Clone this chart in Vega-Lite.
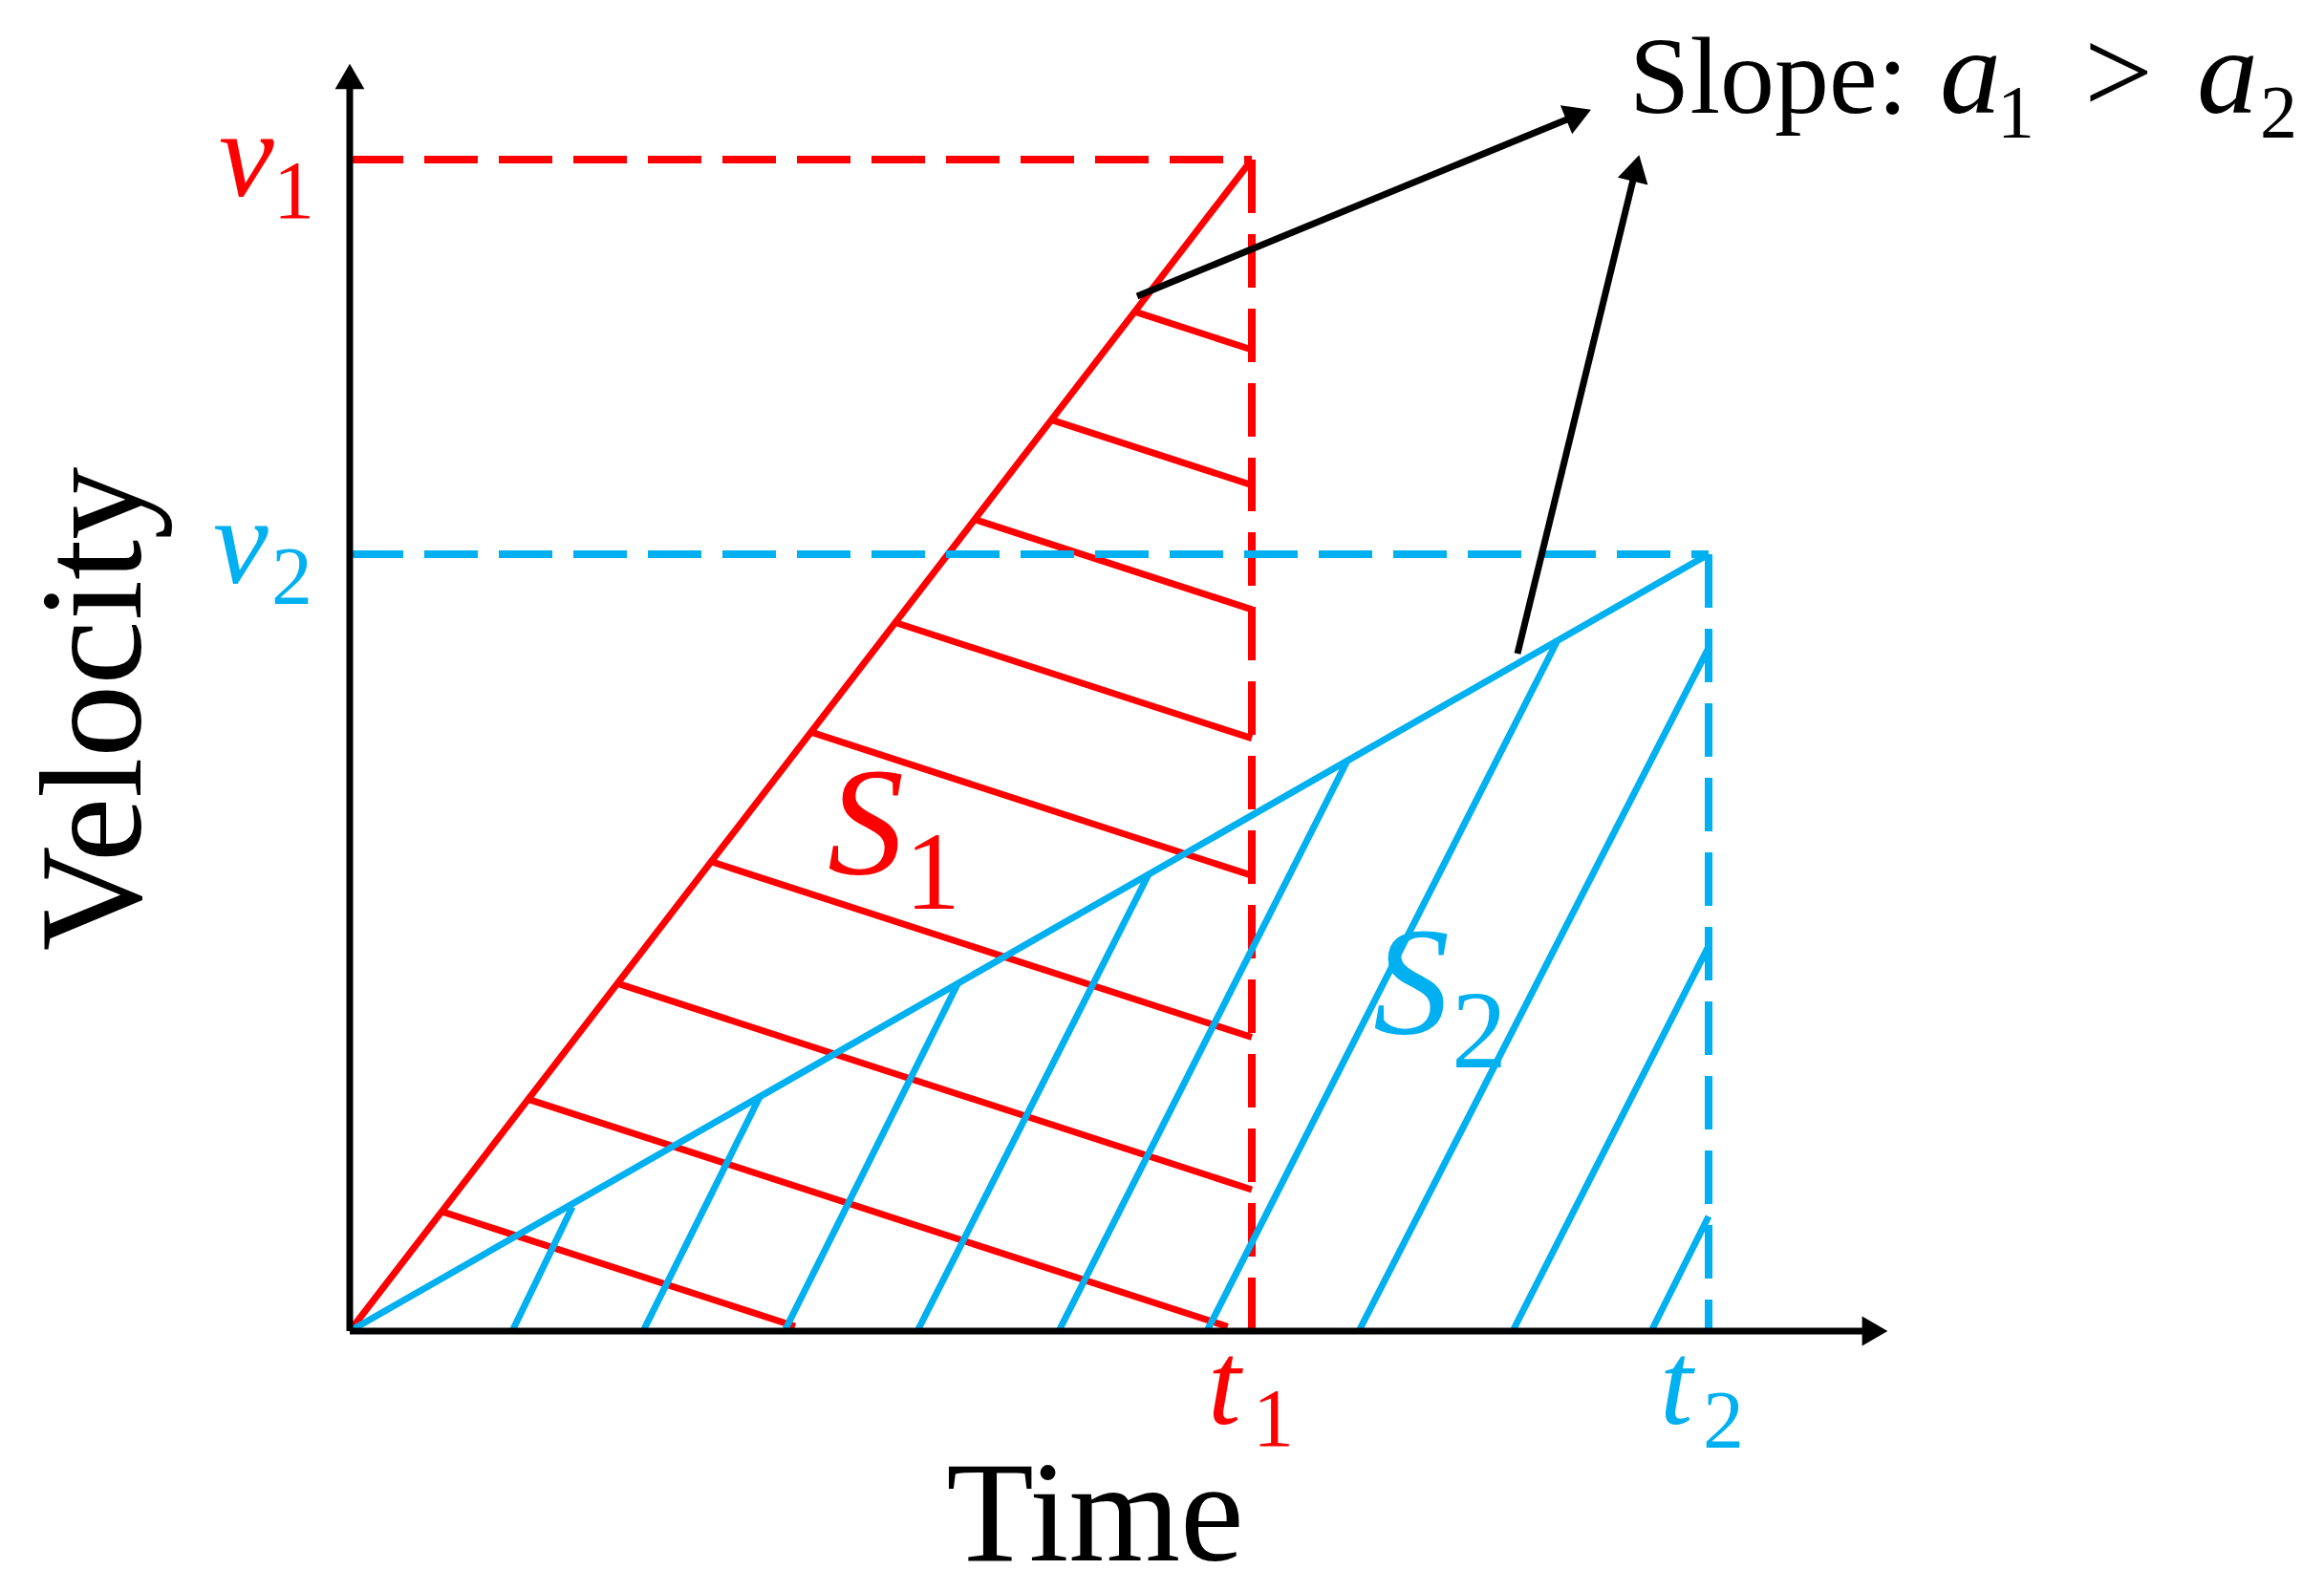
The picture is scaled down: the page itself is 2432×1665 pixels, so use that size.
{
  "$schema": "https://vega.github.io/schema/vega-lite/v6.json",
  "width": 2432,
  "height": 1665,
  "padding": 0,
  "autosize": {"type": "none"},
  "background": "white",
  "config": {"view": {"stroke": null}},
  "datasets": {
    "redSlope": [{"x": 0, "y": 0, "x2": 944, "y2": 1226}],
    "redDash": [
      {"x": 0, "y": 1226, "x2": 944, "y2": 1226},
      {"x": 944, "y": 1226, "x2": 944, "y2": 0}
    ],
    "redHatch": [
      {"x": 821.5, "y": 1066.8, "x2": 944, "y2": 1027},
      {"x": 734.3, "y": 953.6, "x2": 944, "y2": 885.4},
      {"x": 654.1, "y": 849.4, "x2": 944, "y2": 755.2},
      {"x": 571, "y": 741.5, "x2": 944, "y2": 620.3},
      {"x": 482.6, "y": 626.8, "x2": 944, "y2": 476.8},
      {"x": 378.3, "y": 491.3, "x2": 944, "y2": 307.5},
      {"x": 280.1, "y": 363.8, "x2": 944, "y2": 148},
      {"x": 186.8, "y": 242.6, "x2": 918.7, "y2": 4.7},
      {"x": 96.4, "y": 125.1, "x2": 466, "y2": 5}
    ],
    "blueSlope": [{"x": 0, "y": 0, "x2": 1422, "y2": 813}],
    "blueDash": [
      {"x": 0, "y": 813, "x2": 1422, "y2": 813},
      {"x": 1422, "y": 813, "x2": 1422, "y2": 0}
    ],
    "blueHatch": [
      {"x": 171, "y": 2, "x2": 233, "y2": 130},
      {"x": 308, "y": 2, "x2": 429, "y2": 245},
      {"x": 456, "y": 2, "x2": 637, "y2": 365},
      {"x": 595, "y": 2, "x2": 836, "y2": 478},
      {"x": 743, "y": 2, "x2": 1044, "y2": 597},
      {"x": 898, "y": 2, "x2": 1263, "y2": 721},
      {"x": 1057, "y": 2, "x2": 1422, "y2": 715},
      {"x": 1218, "y": 2, "x2": 1422, "y2": 403},
      {"x": 1363, "y": 2, "x2": 1422, "y2": 120}
    ],
    "axes": [
      {"x": 0, "y": 0, "x2": 1590, "y2": 0},
      {"x": 0, "y": 0, "x2": 0, "y2": 1300}
    ],
    "axisHeadUp": [{"x": 0, "y": 1313}],
    "axisHeadRight": [{"x": 1596, "y": 0}],
    "arrows": [
      {"x": 824, "y": 1083, "x2": 1286, "y2": 1273},
      {"x": 1222, "y": 709, "x2": 1346, "y2": 1217}
    ],
    "arrowHead1": [{"x": 1286, "y": 1273}],
    "arrowHead2": [{"x": 1346, "y": 1217}],
    "vLabels": [
      {"label": "v", "series": "1", "x": -137, "y": 1188},
      {"label": "v", "series": "2", "x": -143, "y": 783}
    ],
    "tLabels": [
      {"label": "t", "series": "1", "x": 898, "y": -97},
      {"label": "t", "series": "2", "x": 1371, "y": -97}
    ],
    "SLabels": [
      {"label": "S", "series": "1", "x": 500, "y": 479},
      {"label": "S", "series": "2", "x": 1071, "y": 312}
    ],
    "aLabels": [
      {"label": "a", "series": "0", "x": 1664, "y": 1275},
      {"label": "a", "series": "0", "x": 1933, "y": 1275}
    ],
    "subVT": [
      {"label": "1", "series": "1", "x": -80, "y": 1165},
      {"label": "2", "series": "2", "x": -82, "y": 761},
      {"label": "1", "series": "1", "x": 945, "y": -120},
      {"label": "2", "series": "2", "x": 1416, "y": -122}
    ],
    "subS": [
      {"label": "1", "series": "1", "x": 581, "y": 442},
      {"label": "2", "series": "2", "x": 1153, "y": 276}
    ],
    "subA": [
      {"label": "1", "series": "0", "x": 1724, "y": 1250},
      {"label": "2", "series": "0", "x": 1999, "y": 1250}
    ],
    "slopeText": [{"label": "Slope:", "x": 1339, "y": 1275}],
    "gtText": [{"label": ">", "x": 1815, "y": 1275}],
    "timeText": [{"label": "Time", "x": 780, "y": -240}],
    "velText": [{"label": "Velocity", "x": -219, "y": 651}]
  },
  "encoding": {
    "x": {"field": "x", "type": "quantitative", "scale": {"domain": [-366, 2066], "nice": false, "zero": false}, "axis": null},
    "y": {"field": "y", "type": "quantitative", "scale": {"domain": [-272, 1393], "nice": false, "zero": false}, "axis": null}
  },
  "layer": [
    {"data": {"name": "redHatch"}, "mark": {"type": "rule", "color": "#FF0000", "strokeWidth": 7}, "encoding": {"x2": {"field": "x2"}, "y2": {"field": "y2"}}},
    {"data": {"name": "redSlope"}, "mark": {"type": "rule", "color": "#FF0000", "strokeWidth": 7}, "encoding": {"x2": {"field": "x2"}, "y2": {"field": "y2"}}},
    {"data": {"name": "redDash"}, "mark": {"type": "rule", "color": "#FF0000", "strokeWidth": 8, "strokeDash": [56, 22]}, "encoding": {"x2": {"field": "x2"}, "y2": {"field": "y2"}}},
    {"data": {"name": "blueHatch"}, "mark": {"type": "rule", "color": "#00B0F0", "strokeWidth": 7}, "encoding": {"x2": {"field": "x2"}, "y2": {"field": "y2"}}},
    {"data": {"name": "blueSlope"}, "mark": {"type": "rule", "color": "#00B0F0", "strokeWidth": 7}, "encoding": {"x2": {"field": "x2"}, "y2": {"field": "y2"}}},
    {"data": {"name": "blueDash"}, "mark": {"type": "rule", "color": "#00B0F0", "strokeWidth": 8, "strokeDash": [56, 22]}, "encoding": {"x2": {"field": "x2"}, "y2": {"field": "y2"}}},
    {"data": {"name": "axes"}, "mark": {"type": "rule", "color": "#000000", "strokeWidth": 7}, "encoding": {"x2": {"field": "x2"}, "y2": {"field": "y2"}}},
    {"data": {"name": "axisHeadUp"}, "mark": {"type": "point", "shape": "triangle-up", "size": 950, "filled": true, "color": "#000000", "opacity": 1}},
    {"data": {"name": "axisHeadRight"}, "mark": {"type": "point", "shape": "triangle-right", "size": 950, "filled": true, "color": "#000000", "opacity": 1}},
    {"data": {"name": "arrows"}, "mark": {"type": "rule", "color": "#000000", "strokeWidth": 7}, "encoding": {"x2": {"field": "x2"}, "y2": {"field": "y2"}}},
    {"data": {"name": "arrowHead1"}, "mark": {"type": "point", "shape": "triangle-up", "size": 1050, "angle": 67.6, "filled": true, "color": "#000000", "opacity": 1}},
    {"data": {"name": "arrowHead2"}, "mark": {"type": "point", "shape": "triangle-up", "size": 1050, "angle": 13.7, "filled": true, "color": "#000000", "opacity": 1}},
    {"data": {"name": "vLabels"}, "mark": {"type": "text", "font": "Liberation Serif", "fontStyle": "italic", "fontSize": 130, "align": "left", "baseline": "alphabetic"},
     "encoding": {"text": {"field": "label"}, "color": {"field": "series", "type": "nominal", "scale": {"domain": ["1", "2", "0"], "range": ["#FF0000", "#00B0F0", "#000000"]}, "legend": null}}},
    {"data": {"name": "tLabels"}, "mark": {"type": "text", "font": "Liberation Serif", "fontStyle": "italic", "fontSize": 124, "align": "left", "baseline": "alphabetic"},
     "encoding": {"text": {"field": "label"}, "color": {"field": "series", "type": "nominal", "scale": {"domain": ["1", "2", "0"], "range": ["#FF0000", "#00B0F0", "#000000"]}, "legend": null}}},
    {"data": {"name": "SLabels"}, "mark": {"type": "text", "font": "Liberation Serif", "fontStyle": "italic", "fontSize": 160, "align": "left", "baseline": "alphabetic"},
     "encoding": {"text": {"field": "label"}, "color": {"field": "series", "type": "nominal", "scale": {"domain": ["1", "2", "0"], "range": ["#FF0000", "#00B0F0", "#000000"]}, "legend": null}}},
    {"data": {"name": "aLabels"}, "mark": {"type": "text", "font": "Liberation Serif", "fontStyle": "italic", "fontSize": 128, "align": "left", "baseline": "alphabetic"},
     "encoding": {"text": {"field": "label"}, "color": {"field": "series", "type": "nominal", "scale": {"domain": ["1", "2", "0"], "range": ["#FF0000", "#00B0F0", "#000000"]}, "legend": null}}},
    {"data": {"name": "subVT"}, "mark": {"type": "text", "font": "Liberation Serif", "fontSize": 86, "align": "left", "baseline": "alphabetic"},
     "encoding": {"text": {"field": "label"}, "color": {"field": "series", "type": "nominal", "scale": {"domain": ["1", "2", "0"], "range": ["#FF0000", "#00B0F0", "#000000"]}, "legend": null}}},
    {"data": {"name": "subS"}, "mark": {"type": "text", "font": "Liberation Serif", "fontSize": 116, "align": "left", "baseline": "alphabetic"},
     "encoding": {"text": {"field": "label"}, "color": {"field": "series", "type": "nominal", "scale": {"domain": ["1", "2", "0"], "range": ["#FF0000", "#00B0F0", "#000000"]}, "legend": null}}},
    {"data": {"name": "subA"}, "mark": {"type": "text", "font": "Liberation Serif", "fontSize": 78, "align": "left", "baseline": "alphabetic"},
     "encoding": {"text": {"field": "label"}, "color": {"field": "series", "type": "nominal", "scale": {"domain": ["1", "2", "0"], "range": ["#FF0000", "#00B0F0", "#000000"]}, "legend": null}}},
    {"data": {"name": "slopeText"}, "mark": {"type": "text", "font": "Liberation Serif", "fontSize": 114, "align": "left", "baseline": "alphabetic", "color": "#000000"},
     "encoding": {"text": {"field": "label"}}},
    {"data": {"name": "gtText"}, "mark": {"type": "text", "font": "Liberation Serif", "fontSize": 128, "align": "left", "baseline": "alphabetic", "color": "#000000"},
     "encoding": {"text": {"field": "label"}}},
    {"data": {"name": "timeText"}, "mark": {"type": "text", "font": "Liberation Serif", "fontSize": 150, "align": "center", "baseline": "alphabetic", "color": "#000000"},
     "encoding": {"text": {"field": "label"}}},
    {"data": {"name": "velText"}, "mark": {"type": "text", "font": "Liberation Serif", "fontSize": 152, "align": "center", "baseline": "alphabetic", "angle": 270, "color": "#000000"},
     "encoding": {"text": {"field": "label"}}}
  ]
}
